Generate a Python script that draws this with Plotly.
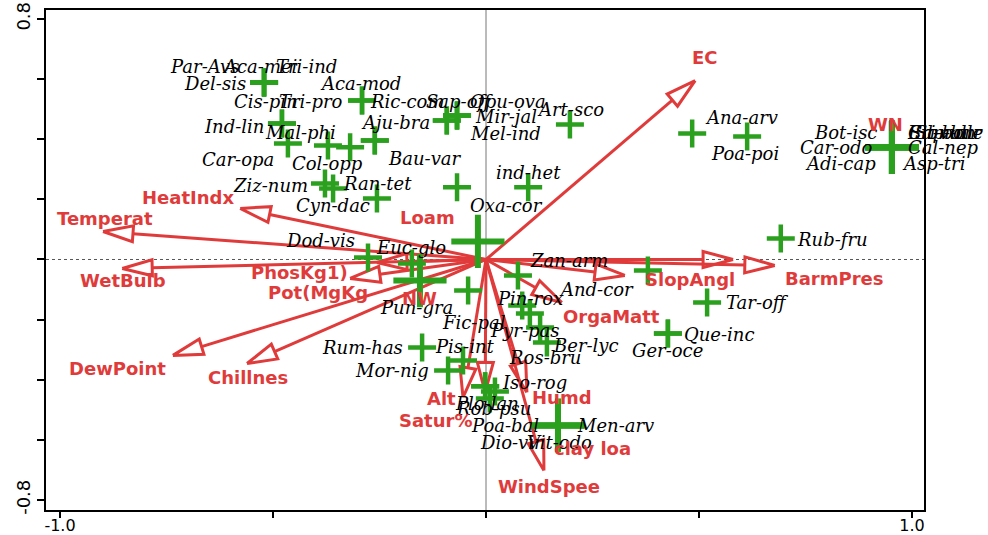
import numpy as np
import plotly.graph_objects as go

# ---- species scores (axis 1, axis 2) ----
species = ["Par-Avs", "Aca-mei", "Tri-ind", "Del-sis", "Aca-mod", "Tri-pro", "Cis-pin", "Ind-lin",
           "Car-opa", "Col-opp", "Mal-phi", "Aju-bra", "Bau-var", "Ric-com", "Mir-jal", "Sap-off",
           "Opu-ova", "Mel-ind", "Art-sco", "Ziz-num", "Ran-tet", "Cyn-dac", "Oxa-cor", "ind-het",
           "Ana-arv", "Poa-poi", "Bot-isc", "Car-odo", "Adi-cap", "Cal-nep", "Asp-tri", "Sil-vul",
           "Eri-bon", "Cap-bur", "Son-ole", "Rub-fru", "Dod-vis", "Euc-glo", "", "Pun-gra",
           "Fic-pal", "Rum-has", "Pis-int", "Mor-nig", "Zan-arm", "And-cor", "Pin-rox", "Pyr-pas",
           "Ros-bru", "Ber-lyc", "Tar-off", "Que-inc", "Ger-oce", "Iso-rog", "Plo-lan", "Rob-psu",
           "Poa-bal", "Men-arv", "Dio-vir", "Vit-odo"]
sp_ax1 = [-0.521, -0.521, -0.521, -0.521, -0.291, -0.291, -0.479, -0.479,
          -0.465, -0.371, -0.319, -0.261, -0.261, -0.092, -0.092, -0.068,
          -0.068, -0.068, 0.197, -0.378, -0.359, -0.256, -0.068, 0.099,
          0.484, 0.613, 0.953, 0.953, 0.953, 0.953, 0.953, 0.953,
          0.953, 0.953, 0.953, 0.692, -0.277, -0.174, -0.019, -0.155,
          -0.042, -0.150, -0.054, -0.089, 0.075, 0.380, 0.085, 0.103,
          0.127, 0.143, 0.519, 0.427, 0.427, -0.002, 0.021, -0.002,
          0.009, 0.169, 0.169, 0.169]
sp_ax2 = [0.589, 0.589, 0.589, 0.589, 0.529, 0.529, 0.452, 0.452,
          0.386, 0.379, 0.373, 0.396, 0.396, 0.462, 0.462, 0.479,
          0.479, 0.479, 0.449, 0.253, 0.236, 0.203, 0.240, 0.240,
          0.419, 0.409, 0.373, 0.373, 0.373, 0.373, 0.373, 0.373,
          0.373, 0.373, 0.373, 0.070, 0.007, -0.013, 0.060, -0.070,
          -0.103, -0.293, -0.336, -0.369, -0.053, -0.037, -0.153, -0.180,
          -0.226, -0.276, -0.143, -0.246, -0.246, -0.422, -0.439, -0.422,
          -0.462, -0.552, -0.552, -0.552]

# ---- environmental variables (arrow tips) ----
env_names = ["EC", "HeatIndx", "Temperat", "WetBulb", "DewPoint", "Chillnes", "PhosKg1)", "Pot(MgKg",
             "SlopAngl", "", "BarmPres", "OrgaMatt", "Alt", "Satur%", "Humd", "WindSpee"]
env_ax1 = [0.491, -0.577, -0.899, -0.854, -0.735, -0.561, -0.256, -0.319,
           0.326, 0.580, 0.678, 0.178, -0.054, -0.002, 0.096, 0.136]
env_ax2 = [0.595, 0.170, 0.093, -0.030, -0.319, -0.346, -0.010, -0.063,
           -0.053, 0.000, -0.020, -0.143, -0.459, -0.442, -0.442, -0.702]

# ---- nominal variables (centroids, label only) ----
nom_names = ["Loam", "NW", "WN", "clay loa"]
nom_ax1 = [-0.138, -0.155, 0.937, 0.249]
nom_ax2 = [0.140, -0.130, 0.449, -0.629]

# ---- axis ticks ----
x_ticks = [-1.0, -0.5, 0.0, 0.5, 1.0]
x_ticktext = ["-1.0", "", "", "", "1.0"]
y_ticks = [-0.8, -0.6, -0.4, -0.2, 0.0, 0.2, 0.4, 0.6, 0.8]
y_ticktext = ["-0.8", "", "", "", "", "", "", "", "0.8"]

# ---- layout / style settings ----
W, H = 988, 535
M = dict(l=46, r=64, t=10, b=25)
XR = [-1.0329, 1.0282]
YR = [-0.8333, 0.8299]
plot_w = W - M["l"] - M["r"]
plot_h = H - M["t"] - M["b"]
ppx = plot_w / (XR[1] - XR[0])   # pixels per unit on axis 1
ppy = plot_h / (YR[1] - YR[0])   # pixels per unit on axis 2

RED = "#e03b3b"
GREEN = "#2ba01e"
# species drawn with the large cross symbol
big_species = {"Bot-isc", "Car-odo", "Adi-cap", "Cal-nep", "Asp-tri", "Sil-vul", "Eri-bon",
               "Cap-bur", "Son-ole", "", "Pun-gra", "Men-arv", "Dio-vir", "Vit-odo"}
is_big = [n in big_species for n in species]

# label offsets in pixels (dx right, dy down)
sp_label_off = [(-60, -16), (-5, -16), (42, -16), (-49, 1), (-2, -17), (-51, 1), (-16, -22), (-48, 3),
                (-50, 16), (0, 18), (-50, -15), (21, -18), (50, 18), (-40, -19), (59, -4), (3, -14),
                (51, -14), (48, 18), (1, -15), (-54, 2), (44, -5), (-44, 7), (49, 18), (0, -15),
                (49, -16), (-2, 17), (-46, -15), (-55, 0), (-51, 16), (52, 0), (42, 16), (46, -15),
                (50, -15), (54, -15), (57, -15), (52, 1), (-48, -17), (-1, -16), (0, 0), (-3, 27),
                (6, 32), (-60, 0), (2, -14), (-56, 0), (51, -15), (-51, 19), (8, -7), (-5, 17),
                (5, 30), (39, 3), (50, 0), (52, 1), (0, 17), (49, -4), (-8, 12), (8, 22),
                (15, 27), (58, 0), (-46, 17), (2, 17)]
env_label_off = [(10, -23), (-52, -11), (2, -13), (1, 12), (-55, 13), (1, 14), (-77, 10), (-32, 14),
                 (65, 4), (0, 0), (60, 13), (50, 14), (-22, 1), (-50, 28), (35, 5), (5, 16)]

fig = go.Figure()

# reference lines through the origin
fig.add_shape(type="line", xref="paper", yref="y", x0=0, x1=1, y0=0, y1=0,
              line=dict(color="#555555", width=1, dash="dot"), layer="below")
fig.add_shape(type="line", xref="x", yref="paper", x0=0, x1=0, y0=0, y1=1,
              line=dict(color="#777777", width=1), layer="below")

# arrows: shaft from origin to the head base, hollow triangular head
HEAD_LEN, HEAD_HALF = 30.0, 8.0
shaft_x, shaft_y, head_x, head_y = [], [], [], []
for tx, ty in zip(env_ax1, env_ax2):
    px, py = tx * ppx, ty * ppy
    L = np.hypot(px, py)
    ux, uy = px / L, py / L
    bx, by = px - HEAD_LEN * ux, py - HEAD_LEN * uy
    nx, ny = -uy, ux
    shaft_x += [0, bx / ppx, None]
    shaft_y += [0, by / ppy, None]
    c1 = ((bx + HEAD_HALF * nx) / ppx, (by + HEAD_HALF * ny) / ppy)
    c2 = ((bx - HEAD_HALF * nx) / ppx, (by - HEAD_HALF * ny) / ppy)
    head_x += [tx, c1[0], c2[0], tx, None]
    head_y += [ty, c1[1], c2[1], ty, None]

fig.add_trace(go.Scatter(x=shaft_x, y=shaft_y, mode="lines",
                         line=dict(color=RED, width=3), hoverinfo="skip"))
fig.add_trace(go.Scatter(x=head_x, y=head_y, mode="lines",
                         line=dict(color=RED, width=3), hoverinfo="skip"))

# species crosses
sx_small = [x for x, b in zip(sp_ax1, is_big) if not b]
sy_small = [y for y, b in zip(sp_ax2, is_big) if not b]
sx_big = [x for x, b in zip(sp_ax1, is_big) if b]
sy_big = [y for y, b in zip(sp_ax2, is_big) if b]
fig.add_trace(go.Scatter(x=sx_small, y=sy_small, mode="markers",
                         marker=dict(symbol="cross-thin", size=20, line=dict(color=GREEN, width=4.5)),
                         hoverinfo="skip"))
fig.add_trace(go.Scatter(x=sx_big, y=sy_big, mode="markers",
                         marker=dict(symbol="cross-thin", size=38, line=dict(color=GREEN, width=6)),
                         hoverinfo="skip"))

ann = []
for name, x, y, (dx, dy) in zip(species, sp_ax1, sp_ax2, sp_label_off):
    if not name:
        continue
    ann.append(dict(x=x, y=y, xref="x", yref="y", text=name, showarrow=False,
                    xshift=dx, yshift=-dy, xanchor="center", yanchor="middle",
                    font=dict(family="DejaVu Serif", size=18, color="black", style="italic")))
for name, x, y, (dx, dy) in zip(env_names, env_ax1, env_ax2, env_label_off):
    if not name:
        continue
    ann.append(dict(x=x, y=y, xref="x", yref="y", text="<b>%s</b>" % name, showarrow=False,
                    xshift=dx, yshift=-dy, xanchor="center", yanchor="middle",
                    font=dict(family="DejaVu Sans", size=18, color=RED)))
for name, x, y in zip(nom_names, nom_ax1, nom_ax2):
    ann.append(dict(x=x, y=y, xref="x", yref="y", text="<b>%s</b>" % name, showarrow=False,
                    xanchor="center", yanchor="middle",
                    font=dict(family="DejaVu Sans", size=18, color=RED)))

fig.update_layout(
    width=W, height=H, margin=M,
    paper_bgcolor="white", plot_bgcolor="white",
    showlegend=False, annotations=ann,
    xaxis=dict(range=XR, showgrid=False, zeroline=False, showline=True, mirror=True,
               linecolor="black", linewidth=2, ticks="outside", ticklen=6, tickwidth=1.5,
               tickcolor="black", tickvals=x_ticks, ticktext=x_ticktext, automargin=False,
               ticklabelstandoff=-6,
               tickfont=dict(family="DejaVu Sans", size=16, color="black")),
    yaxis=dict(range=YR, showgrid=False, zeroline=False, showline=True, mirror=True,
               linecolor="black", linewidth=2, ticks="outside", ticklen=7, tickwidth=1.5,
               tickcolor="black", tickvals=y_ticks, ticktext=y_ticktext, tickangle=-90,
               automargin=False, tickfont=dict(family="DejaVu Sans", size=18, color="black")),
)

fig.write_html("out.html")
